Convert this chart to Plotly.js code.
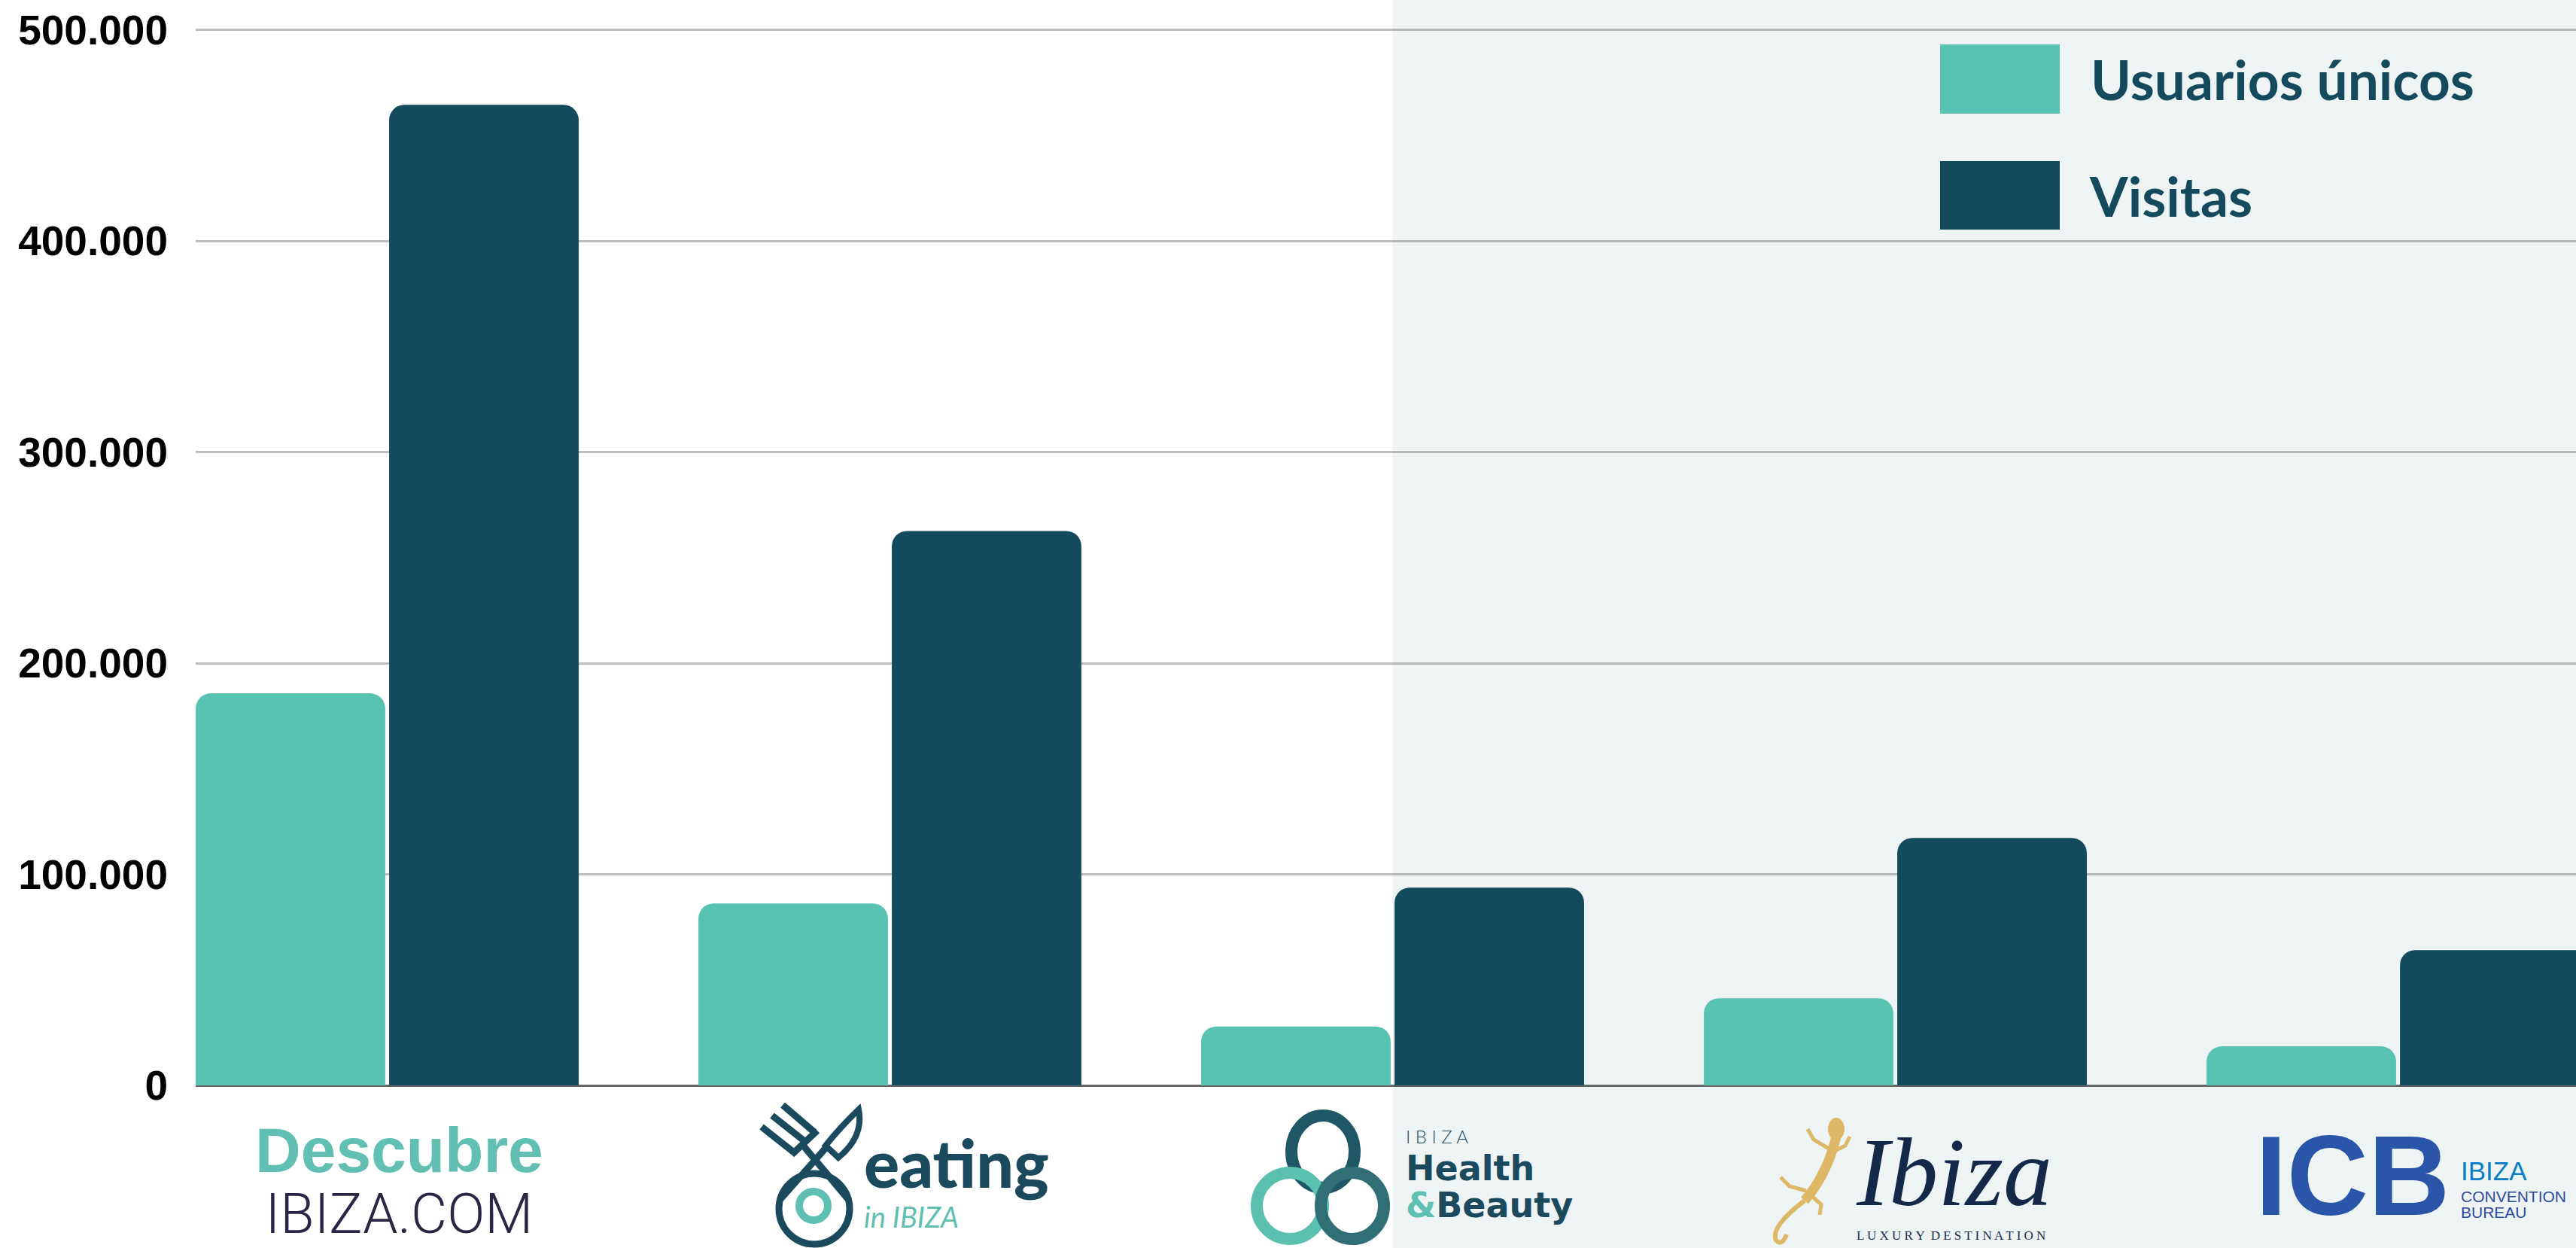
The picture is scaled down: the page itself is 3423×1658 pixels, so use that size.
<!DOCTYPE html>
<html>
<head>
<meta charset="utf-8">
<script src="https://cdn.plot.ly/plotly-3.0.1.min.js"></script>
<style>
html,body{margin:0;padding:0;background:#ffffff;}
#chart{width:3423px;height:1658px;}
</style>
</head>
<body>
<div id="chart"></div>
<script>
// ---------------- DATA ----------------
const categories = ["Descubre Ibiza", "Eating in Ibiza", "Ibiza Health & Beauty", "Ibiza Luxury Destination", "Ibiza Convention Bureau"];
const seriesNames = ["Usuarios únicos", "Visitas"];
const usuariosUnicos = [185700, 86200, 27900, 41300, 18500];
const visitas = [464400, 262600, 93700, 117200, 64100];
const yTickValues = [0, 100000, 200000, 300000, 400000, 500000];
const yTickLabels = ["0", "100.000", "200.000", "300.000", "400.000", "500.000"];
const seriesColors = ["#58C3B1", "#144A5E"];

// logo texts (category labels drawn as logos)
const logoDescubre = ["Descubre", "IBIZA.COM"];
const logoEating = ["eating", "in IBIZA"];
const logoHealth = ["I B I Z A", "Health", "&", "Beauty"];
const logoLuxury = ["Ibiza", "L U X U R Y  D E S T I N A T I O N"];
const logoICB = ["ICB", "IBIZA", "CONVENTION", "BUREAU"];

// ---------------- GEOMETRY HELPERS ----------------
const W = 3423, H = 1658;
const PLOT_L = 260, AXIS_Y = 1442;
const X_RANGE = [-0.381, 4.354];
const Y_MAX = 514080;
const PLOT_W = W - PLOT_L;
const PX_PER_CAT = PLOT_W / (X_RANGE[1] - X_RANGE[0]);
function cx(i) { return PLOT_L + (i - X_RANGE[0]) * PX_PER_CAT; }
function px2paperX(px) { return (px - PLOT_L) / PLOT_W; }
function py2paperY(py) { return 1 - py / AXIS_Y; }

function ann(i, px, py, text, font, xanchor) {
  return {xref: 'x', x: i, xshift: px - cx(i), yref: 'paper', y: 0, yshift: AXIS_Y - py,
          xanchor: xanchor || 'center', yanchor: 'middle', text: text, font: font, showarrow: false};
}
// multi-line block anchored at its top edge; lineGap = baseline distance
function annTop(i, px, topPy, text, lineGap, xanchor, align) {
  return {xref: 'x', x: i, xshift: px - cx(i), yref: 'paper', y: 0, yshift: AXIS_Y - topPy,
          xanchor: xanchor || 'center', yanchor: 'top', align: align || 'center', text: text,
          font: {family: 'Liberation Sans', size: lineGap / 1.3, color: '#000'}, showarrow: false};
}
function span(txt, fam, size, weight, color, italic) {
  return '<span style="font-family:' + fam + ';font-size:' + size + 'px;font-weight:' + weight +
         ';color:' + color + (italic ? ';font-style:italic' : '') + '">' + txt + '</span>';
}
function ell(i, cxp, cyp, rx, ry, color, w, fill) {
  return {type: 'circle', xref: 'x', xsizemode: 'pixel', xanchor: i,
          x0: cxp - rx - cx(i), x1: cxp + rx - cx(i),
          yref: 'paper', ysizemode: 'pixel', yanchor: 0,
          y0: AXIS_Y - (cyp + ry), y1: AXIS_Y - (cyp - ry),
          line: {color: color, width: w}, fillcolor: fill || 'rgba(0,0,0,0)', layer: 'above'};
}
function pcmd(i, cmds, color, w, fill) {
  const d = cmds.map(c => c[0] + c.slice(1).map((v, k) => k % 2 === 0 ? (v - cx(i)).toFixed(1) : (AXIS_Y - v).toFixed(1)).join(',')).join(' ');
  return {type: 'path', xref: 'x', xsizemode: 'pixel', xanchor: i, yref: 'paper', ysizemode: 'pixel', yanchor: 0,
          path: d, line: {color: color, width: w}, fillcolor: fill || 'rgba(0,0,0,0)', layer: 'above'};
}

const DARK = '#1B4A5E', TEAL = '#5FBFB0';

// ---------------- TRACES ----------------
const traces = [
  {type: 'bar', name: seriesNames[0], x: categories, y: usuariosUnicos,
   marker: {color: seriesColors[0], line: {width: 0}}, hoverinfo: 'skip'},
  {type: 'bar', name: seriesNames[1], x: categories, y: visitas,
   marker: {color: seriesColors[1], line: {width: 0}}, hoverinfo: 'skip'}
];

// ---------------- SHAPES ----------------
const shapes = [];
// light panel on the right half
shapes.push({type: 'rect', xref: 'x', x0: 2, x1: X_RANGE[1], yref: 'paper', y0: -(H - AXIS_Y) / AXIS_Y, y1: 1,
             fillcolor: '#EEF4F4', line: {width: 0}, layer: 'below'});
// legend boxes
shapes.push({type: 'rect', xref: 'paper', yref: 'paper', x0: px2paperX(2578), x1: px2paperX(2737),
             y0: py2paperY(151), y1: py2paperY(59), fillcolor: seriesColors[0], line: {width: 0}, layer: 'above'});
shapes.push({type: 'rect', xref: 'paper', yref: 'paper', x0: px2paperX(2578), x1: px2paperX(2737),
             y0: py2paperY(305), y1: py2paperY(214), fillcolor: seriesColors[1], line: {width: 0}, layer: 'above'});

// Eating in Ibiza icon (cat 1)
shapes.push(ell(1, 1082, 1606, 47, 47, DARK, 9));
shapes.push(ell(1, 1081, 1602, 19, 19, TEAL, 10));
shapes.push(pcmd(1, [['M', 1100, 1522], ['L', 1038, 1592]], DARK, 9));
shapes.push(pcmd(1, [['M', 1064, 1518], ['L', 1126, 1592]], DARK, 9));
shapes.push(pcmd(1, [['M', 1141, 1474], ['Q', 1148, 1510, 1114, 1538], ['L', 1097, 1522], ['Q', 1116, 1498, 1141, 1474], ['Z']], DARK, 8));
shapes.push(pcmd(1, [['M', 1012, 1497], ['L', 1055, 1531]], DARK, 9));
shapes.push(pcmd(1, [['M', 1026, 1482], ['L', 1069, 1516]], DARK, 9));
shapes.push(pcmd(1, [['M', 1040, 1468], ['L', 1082, 1504]], DARK, 9));
shapes.push(pcmd(1, [['M', 1052, 1534], ['L', 1086, 1502]], DARK, 9));

// Health & Beauty icon (cat 2)
shapes.push(ell(2, 1758, 1530, 42, 48, '#1F5766', 16));
shapes.push(ell(2, 1714, 1602, 44, 44, '#5CC0AF', 16));
shapes.push(ell(2, 1797, 1602, 42, 44, '#2F6F75', 16));

// Lizard (cat 3)
const GOLD = '#DDB866';
shapes.push(ell(3, 2440, 1500, 11, 15, GOLD, 0, GOLD));
shapes.push(pcmd(3, [['M', 2440, 1510], ['Q', 2428, 1560, 2398, 1595]], GOLD, 13));
shapes.push(pcmd(3, [['M', 2398, 1595], ['Q', 2352, 1630, 2360, 1648], ['Q', 2368, 1656, 2374, 1640]], GOLD, 6));
shapes.push(pcmd(3, [['M', 2432, 1532], ['L', 2452, 1522], ['L', 2458, 1510]], GOLD, 5));
shapes.push(pcmd(3, [['M', 2430, 1526], ['L', 2410, 1514], ['L', 2402, 1500]], GOLD, 5));
shapes.push(pcmd(3, [['M', 2404, 1586], ['L', 2420, 1600], ['L', 2418, 1614]], GOLD, 5));
shapes.push(pcmd(3, [['M', 2400, 1582], ['L', 2378, 1576], ['L', 2366, 1564]], GOLD, 5));

// ---------------- ANNOTATIONS ----------------
const annotations = [];
const LEGEND_FONT = {family: 'Lato, Liberation Sans, sans-serif', size: 73, weight: 700, color: '#154A5E'};
annotations.push({xref: 'paper', yref: 'paper', x: px2paperX(2776), y: py2paperY(105), xanchor: 'left', yanchor: 'middle',
  text: seriesNames[0], showarrow: false, font: LEGEND_FONT});
annotations.push({xref: 'paper', yref: 'paper', x: px2paperX(2774), y: py2paperY(260), xanchor: 'left', yanchor: 'middle',
  text: seriesNames[1], showarrow: false, font: LEGEND_FONT});

// Descubre Ibiza logo (cat 0)
annotations.push(annTop(0, 530, 1479,
  span(logoDescubre[0], 'Liberation Sans', 84, 700, '#61C0B1') + '<br>' +
  span(logoDescubre[1], 'Roboto', 74, 300, '#2B2546'), 81, 'center', 'center'));

// Eating in Ibiza (cat 1)
annotations.push(annTop(1, 1146, 1489,
  span(logoEating[0], 'Lato', 88, 900, DARK) + '<br>' +
  span(logoEating[1], 'Lato', 38, 400, TEAL, true), 53, 'left', 'left'));

// Health & Beauty (cat 2)
annotations.push(annTop(2, 1866, 1493,
  span(logoHealth[0], 'Lato', 24, 300, DARK) + '<br>' +
  span(logoHealth[1], 'DejaVu Sans', 46, 700, DARK) + '<br>' +
  span(logoHealth[2], 'DejaVu Sans', 46, 700, TEAL) + span(logoHealth[3], 'DejaVu Sans', 46, 700, DARK),
  49, 'left', 'left'));

// Ibiza Luxury Destination (cat 3)
annotations.push(annTop(3, 2464, 1483,
  span(logoLuxury[0], 'Liberation Serif', 130, 400, '#14294A', true) + '<br>' +
  span(logoLuxury[1], 'Liberation Serif', 17, 400, '#14294A'), 46, 'left', 'left'));

// ICB (cat 4)
annotations.push(ann(4, 3126, 1562, logoICB[0], {family: 'Liberation Sans', size: 150, weight: 900, color: '#2B55A8'}));
annotations.push(ann(4, 3268, 1555, logoICB[1], {family: 'Liberation Sans', size: 35, color: '#0A7DC4'}, 'left'));
annotations.push(annTop(4, 3268, 1576,
  span(logoICB[2], 'Liberation Sans', 21, 400, '#2E4C9E') + '<br>' +
  span(logoICB[3], 'Liberation Sans', 21, 400, '#2E4C9E'), 21, 'left', 'left'));

// ---------------- LAYOUT ----------------
const layout = {
  width: W, height: H,
  margin: {l: PLOT_L, r: 0, t: 0, b: H - AXIS_Y, pad: 0},
  paper_bgcolor: '#ffffff', plot_bgcolor: 'rgba(0,0,0,0)',
  barmode: 'group', bargap: 0.2305, bargroupgap: 0.02, barcornerradius: 20,
  showlegend: false,
  separators: ',.',
  xaxis: {type: 'category', range: X_RANGE, showticklabels: false, showgrid: false, zeroline: false,
          showline: false, ticks: '', fixedrange: true},
  yaxis: {range: [0, Y_MAX], tickvals: yTickValues, ticktext: yTickLabels, showgrid: true,
          gridcolor: 'rgba(0,0,0,0.25)', gridwidth: 3, zeroline: true, zerolinecolor: '#666666', zerolinewidth: 3,
          showline: false, ticks: '', ticklabelstandoff: 36,
          tickfont: {family: 'Liberation Sans, Arial, sans-serif', size: 55, weight: 700, color: '#000000'}, fixedrange: true},
  shapes: shapes,
  annotations: annotations
};

Plotly.newPlot('chart', traces, layout, {staticPlot: true, displayModeBar: false});
</script>
</body>
</html>
